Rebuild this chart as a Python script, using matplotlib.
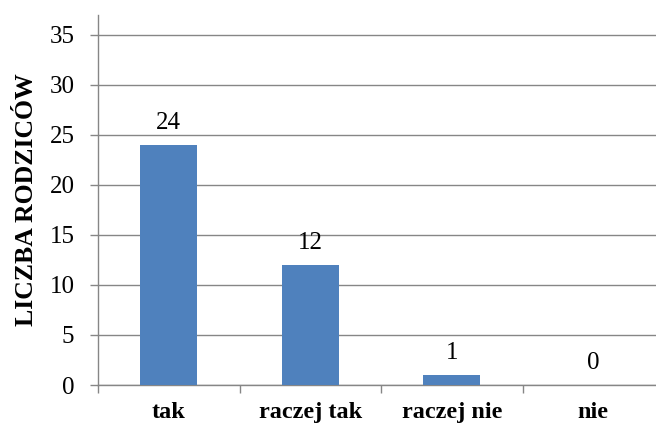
import matplotlib
matplotlib.use('Agg')
import matplotlib.pyplot as plt
from matplotlib.ticker import FixedLocator, MultipleLocator

# Dane wykresu
kategorie = ["tak", "raczej tak", "raczej nie", "nie"]
liczba_rodzicow = [24, 12, 1, 0]
os_y_etykieta = "LICZBA RODZICÓW"

plt.rcParams['font.family'] = ['Liberation Serif', 'DejaVu Serif']

KOLOR_SLUPKA = "#4F81BD"
KOLOR_OSI = "#868686"

fig = plt.figure(figsize=(6.56, 4.28), dpi=100)
ax = fig.add_axes([98 / 656, 43 / 428, 566 / 656, 370 / 428])

x = list(range(len(kategorie)))
slupki = ax.bar(x, liczba_rodzicow, width=0.4, color=KOLOR_SLUPKA, zorder=3)
ax.bar_label(slupki, labels=[str(v) for v in liczba_rodzicow], padding=8, fontsize=18)

ax.set_xlim(-0.5, len(kategorie) - 0.5)
ax.set_ylim(0, 36.95)

# Os Y i siatka
ax.yaxis.set_major_locator(MultipleLocator(5))
ax.tick_params(axis='y', labelsize=18, length=6, width=1, color=KOLOR_OSI, pad=11)
ax.grid(axis='y', color=KOLOR_OSI, linewidth=1, zorder=0)
ax.set_ylabel(os_y_etykieta, fontsize=18.5, fontweight='bold', labelpad=8)

# Os X: znaczniki na granicach kategorii
ax.set_xticks(x)
ax.set_xticklabels(kategorie, fontsize=17.5, fontweight='bold')
ax.tick_params(axis='x', which='major', length=0, pad=12)
ax.xaxis.set_minor_locator(FixedLocator([i + 0.5 for i in range(-1, len(kategorie))]))
ax.tick_params(axis='x', which='minor', length=6, width=1, color=KOLOR_OSI)

for strona in ['top', 'right']:
    ax.spines[strona].set_visible(False)
for strona in ['left', 'bottom']:
    ax.spines[strona].set_color(KOLOR_OSI)
    ax.spines[strona].set_linewidth(1)

fig.savefig("out.png", dpi=100)
plt.close(fig)
